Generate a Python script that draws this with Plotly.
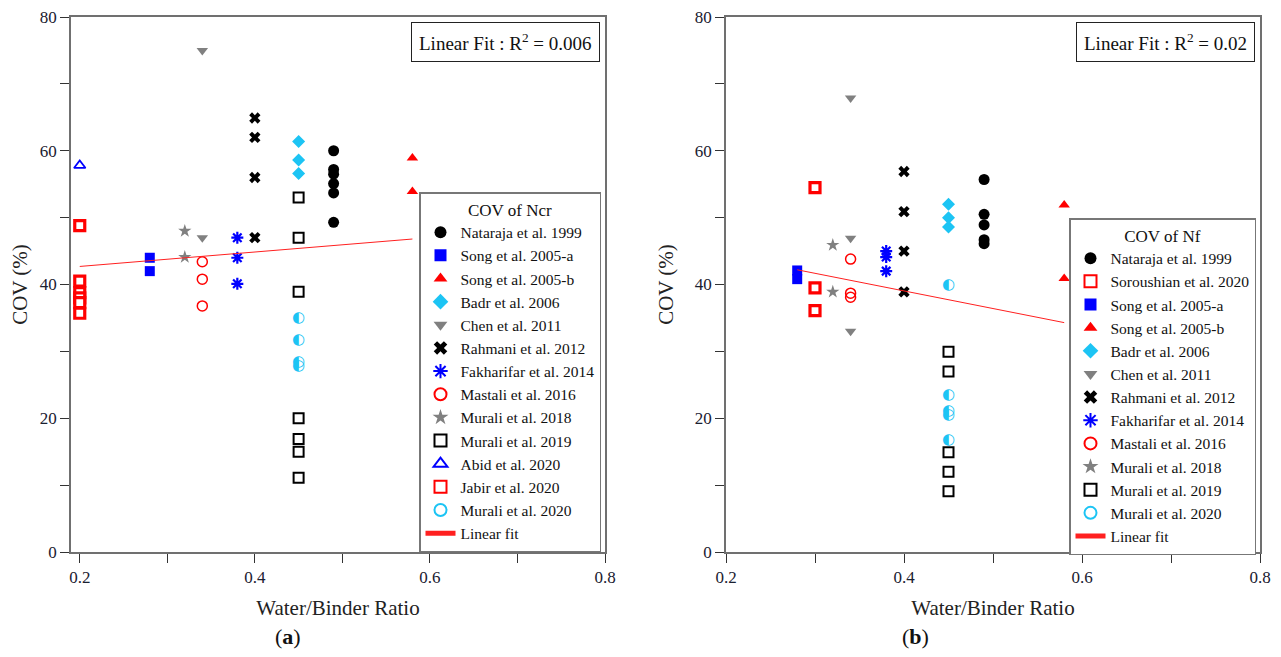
import plotly.graph_objects as go

# ---------------- Panel (a): COV of Ncr ----------------
nataraja_a_x = [0.49, 0.49, 0.49, 0.49, 0.49, 0.49]
nataraja_a_y = [60.0, 57.2, 56.5, 55.1, 53.7, 49.3]
songA_a_x = [0.28, 0.28]
songA_a_y = [44.0, 42.0]
songB_a_x = [0.58, 0.58]
songB_a_y = [58.9, 53.9]
badr_a_x = [0.45, 0.45, 0.45]
badr_a_y = [61.4, 58.6, 56.6]
chen_a_x = [0.34, 0.34]
chen_a_y = [75.0, 47.0]
rahmani_a_x = [0.40, 0.40, 0.40, 0.40]
rahmani_a_y = [64.9, 62.0, 56.0, 47.0]
fakh_a_x = [0.38, 0.38, 0.38]
fakh_a_y = [47.0, 44.0, 40.1]
mastali_a_x = [0.34, 0.34, 0.34]
mastali_a_y = [43.4, 40.8, 36.8]
mur18_a_x = [0.32, 0.32]
mur18_a_y = [48.0, 44.1]
mur19_a_x = [0.45, 0.45, 0.45, 0.45, 0.45, 0.45, 0.45]
mur19_a_y = [53.0, 47.0, 38.9, 20.0, 16.9, 15.0, 11.1]
abid_a_x = [0.20]
abid_a_y = [57.8]
jabir_a_x = [0.20, 0.20, 0.20, 0.20, 0.20, 0.20]
jabir_a_y = [48.8, 40.5, 38.8, 38.0, 37.3, 35.7]
mur20_a_x = [0.45, 0.45, 0.45, 0.45]
mur20_a_y = [35.0, 31.6, 28.4, 27.8]
fit_a_x = [0.20, 0.58]
fit_a_y = [42.7, 46.8]
r2_a = "0.006"

# ---------------- Panel (b): COV of Nf ----------------
nataraja_b_x = [0.49, 0.49, 0.49, 0.49, 0.49]
nataraja_b_y = [55.7, 50.5, 48.9, 46.7, 46.1]
sorou_b_x = [0.30, 0.30, 0.30]
sorou_b_y = [54.5, 39.5, 36.1]
songA_b_x = [0.28, 0.28]
songA_b_y = [42.1, 40.8]
songB_b_x = [0.58, 0.58]
songB_b_y = [51.9, 40.9]
badr_b_x = [0.45, 0.45, 0.45]
badr_b_y = [52.0, 50.0, 48.6]
chen_b_x = [0.34, 0.34, 0.34]
chen_b_y = [67.9, 46.9, 33.0]
rahmani_b_x = [0.40, 0.40, 0.40, 0.40]
rahmani_b_y = [56.9, 50.9, 45.0, 38.9]
fakh_b_x = [0.38, 0.38, 0.38]
fakh_b_y = [45.0, 44.1, 42.0]
mastali_b_x = [0.34, 0.34, 0.34]
mastali_b_y = [43.8, 38.7, 38.1]
mur18_b_x = [0.32, 0.32]
mur18_b_y = [45.9, 38.9]
mur19_b_x = [0.45, 0.45, 0.45, 0.45, 0.45]
mur19_b_y = [29.95, 27.0, 14.9, 12.0, 9.1]
mur20_b_x = [0.45, 0.45, 0.45, 0.45, 0.45]
mur20_b_y = [39.9, 23.4, 21.0, 20.5, 16.7]
fit_b_x = [0.28, 0.58]
fit_b_y = [42.2, 34.3]
r2_b = "0.02"

x_ticks = [0.2, 0.4, 0.6, 0.8]
y_ticks = [0, 20, 40, 60, 80]

FONT = "'Liberation Serif', 'Times New Roman', serif"
RED = "#FF0000"
BLUE = "#0000FF"
CYAN = "#1CC4F4"
GRAY = "#808080"
BLACK = "#000000"

STYLES = {
    "nataraja": dict(symbol="circle", size=11, color=BLACK),
    "songA": dict(symbol="square", size=10, color=BLUE),
    "songB": dict(symbol="triangle-up", size=10, color=RED),
    "badr": dict(symbol="diamond", size=10, color=CYAN),
    "chen": dict(symbol="triangle-down", size=10, color=GRAY),
    "rahmani": dict(symbol="x", size=10, color=BLACK),
    "fakh": dict(symbol="asterisk-open", size=10, color=BLUE, line=dict(color=BLUE, width=2.2)),
    "mastali": dict(symbol="circle-open", size=10, color=RED, line=dict(color=RED, width=1.5)),
    "mur18": dict(symbol="star", size=10, color=GRAY),
    "mur19": dict(symbol="square-open", size=10, color=BLACK, line=dict(color=BLACK, width=2)),
    "abid": dict(symbol="triangle-up-open", size=10, color=BLUE, line=dict(color=BLUE, width=1.8)),
    "jabir": dict(symbol="square", size=10, color="white", line=dict(color=RED, width=3.2)),
}

fig = go.Figure()


def add_series(name, key, xs, ys, xa, ya, legend):
    st = dict(STYLES[key])
    if "line" not in st:
        st["line"] = dict(width=0)
    fig.add_trace(go.Scatter(x=xs, y=ys, mode="markers", name=name, marker=st,
                             xaxis=xa, yaxis=ya, legend=legend))


def add_half(name, xs, ys, xa, ya, legend):
    # legend entry
    fig.add_trace(go.Scatter(x=[None], y=[None], mode="markers", name=name,
                             marker=dict(symbol="circle", size=11, color="white",
                                         line=dict(color=CYAN, width=2)),
                             xaxis=xa, yaxis=ya, legend=legend))
    # half-filled circle glyphs at the data points
    fig.add_trace(go.Scatter(x=xs, y=ys, mode="text", text=["◐"] * len(xs),
                             textfont=dict(family="DejaVu Sans", size=15, color=CYAN),
                             textposition="middle center", showlegend=False,
                             hoverinfo="skip", xaxis=xa, yaxis=ya))


def add_fit(xs, ys, xa, ya, legend):
    fig.add_trace(go.Scatter(x=xs, y=ys, mode="lines", name="Linear fit",
                             line=dict(color="#FF2020", width=1),
                             xaxis=xa, yaxis=ya, legend=legend))


# Panel (a)
L1 = "legend"
add_series("Nataraja et al. 1999", "nataraja", nataraja_a_x, nataraja_a_y, "x", "y", L1)
add_series("Song et al. 2005-a", "songA", songA_a_x, songA_a_y, "x", "y", L1)
add_series("Song et al. 2005-b", "songB", songB_a_x, songB_a_y, "x", "y", L1)
add_series("Badr et al. 2006", "badr", badr_a_x, badr_a_y, "x", "y", L1)
add_series("Chen et al. 2011", "chen", chen_a_x, chen_a_y, "x", "y", L1)
add_series("Rahmani et al. 2012", "rahmani", rahmani_a_x, rahmani_a_y, "x", "y", L1)
add_series("Fakharifar et al. 2014", "fakh", fakh_a_x, fakh_a_y, "x", "y", L1)
add_series("Mastali et al. 2016", "mastali", mastali_a_x, mastali_a_y, "x", "y", L1)
add_series("Murali et al. 2018", "mur18", mur18_a_x, mur18_a_y, "x", "y", L1)
add_series("Murali et al. 2019", "mur19", mur19_a_x, mur19_a_y, "x", "y", L1)
add_series("Abid et al. 2020", "abid", abid_a_x, abid_a_y, "x", "y", L1)
add_series("Jabir et al. 2020", "jabir", jabir_a_x, jabir_a_y, "x", "y", L1)
add_half("Murali et al. 2020", mur20_a_x, mur20_a_y, "x", "y", L1)
add_fit(fit_a_x, fit_a_y, "x", "y", L1)

# Panel (b)
L2 = "legend2"
add_series("Nataraja et al. 1999", "nataraja", nataraja_b_x, nataraja_b_y, "x2", "y2", L2)
add_series("Soroushian et al. 2020", "jabir", sorou_b_x, sorou_b_y, "x2", "y2", L2)
add_series("Song et al. 2005-a", "songA", songA_b_x, songA_b_y, "x2", "y2", L2)
add_series("Song et al. 2005-b", "songB", songB_b_x, songB_b_y, "x2", "y2", L2)
add_series("Badr et al. 2006", "badr", badr_b_x, badr_b_y, "x2", "y2", L2)
add_series("Chen et al. 2011", "chen", chen_b_x, chen_b_y, "x2", "y2", L2)
add_series("Rahmani et al. 2012", "rahmani", rahmani_b_x, rahmani_b_y, "x2", "y2", L2)
add_series("Fakharifar et al. 2014", "fakh", fakh_b_x, fakh_b_y, "x2", "y2", L2)
add_series("Mastali et al. 2016", "mastali", mastali_b_x, mastali_b_y, "x2", "y2", L2)
add_series("Murali et al. 2018", "mur18", mur18_b_x, mur18_b_y, "x2", "y2", L2)
add_series("Murali et al. 2019", "mur19", mur19_b_x, mur19_b_y, "x2", "y2", L2)
add_half("Murali et al. 2020", mur20_b_x, mur20_b_y, "x2", "y2", L2)
add_fit(fit_b_x, fit_b_y, "x2", "y2", L2)

# page has an 8px body margin: figure occupies (8,8)-(1281,657)
OFF = 8
W, H = 1281 - OFF, 657 - OFF


def px(p):
    return (p - OFF) / W


def py(p):
    return 1 - (p - OFF) / H


def xaxis_cfg(domain, rng):
    return dict(domain=domain, range=rng, automargin=False, showline=True,
                linecolor="#707070", linewidth=1.5, ticklabeloverflow="allow",
                mirror=True, ticks="outside", ticklen=9, tickcolor="#333333", tickwidth=1,
                tickvals=x_ticks, ticktext=[f"{v:.1f}" for v in x_ticks],
                minor=dict(dtick=0.1, tick0=0.2, ticks="outside", ticklen=9,
                           tickcolor="#333333", tickwidth=1, showgrid=False),
                showgrid=False, zeroline=False,
                tickfont=dict(family=FONT, size=17, color="#1a2030"),
                title=dict(text="Water/Binder Ratio", font=dict(family=FONT, size=21, color="#222"),
                           standoff=14))


def yaxis_cfg():
    return dict(domain=[py(552), py(17)], range=[0, 80], automargin=False,
                showline=True, ticklabeloverflow="allow",
                linecolor="#707070", linewidth=1.5, mirror=True, ticks="outside", ticklen=9,
                tickcolor="#333333", tickwidth=1, tickvals=y_ticks,
                minor=dict(dtick=10, tick0=0, ticks="outside", ticklen=9,
                           tickcolor="#333333", tickwidth=1, showgrid=False),
                showgrid=False, zeroline=False,
                tickfont=dict(family=FONT, size=17, color="#1a2030"),
                title=dict(text="COV (%)", font=dict(family=FONT, size=21, color="#222"),
                           standoff=15))


xa1 = xaxis_cfg([px(71), px(605)], [0.19, 0.8])
xa1["anchor"] = "y"
xa2 = xaxis_cfg([px(726), px(1260)], [0.2, 0.8])
xa2["anchor"] = "y2"
ya1 = yaxis_cfg()
ya1["anchor"] = "x"
ya2 = yaxis_cfg()
ya2["anchor"] = "x2"

legend_common = dict(bgcolor="white", bordercolor="#777777", borderwidth=1.5,
                     font=dict(family=FONT, size=15.5, color="#111"),
                     xanchor="right", yanchor="top", itemsizing="constant")

fig.update_layout(
    width=W, height=H,
    margin=dict(l=0, r=0, t=0, b=0, autoexpand=False),
    paper_bgcolor="white", plot_bgcolor="white",
    font=dict(family=FONT),
    xaxis=xa1, yaxis=ya1, xaxis2=xa2, yaxis2=ya2,
    legend=dict(x=px(601), y=py(192),
                title=dict(text="COV of Ncr", side="top center",
                           font=dict(family=FONT, size=17, color="#111")),
                **legend_common),
    legend2=dict(x=px(1256), y=py(218),
                 title=dict(text="COV of Nf", side="top center",
                            font=dict(family=FONT, size=17, color="#111")),
                 **legend_common),
    annotations=[
        dict(text=f"Linear Fit : R<sup>2</sup> = {r2_a}", xref="paper", yref="paper",
             x=px(600), y=py(22), xanchor="right", yanchor="top", showarrow=False,
             font=dict(family=FONT, size=19, color="#111"), bordercolor="#222",
             borderwidth=1, borderpad=7, bgcolor="white"),
        dict(text=f"Linear Fit : R<sup>2</sup> = {r2_b}", xref="paper", yref="paper",
             x=px(1255), y=py(22), xanchor="right", yanchor="top", showarrow=False,
             font=dict(family=FONT, size=19, color="#111"), bordercolor="#222",
             borderwidth=1, borderpad=7, bgcolor="white"),
        dict(text="(<b>a</b>)", xref="paper", yref="paper", x=px(288), y=py(636),
             xanchor="center", yanchor="middle", showarrow=False,
             font=dict(family=FONT, size=22, color="#111")),
        dict(text="(<b>b</b>)", xref="paper", yref="paper", x=px(915), y=py(636),
             xanchor="center", yanchor="middle", showarrow=False,
             font=dict(family=FONT, size=22, color="#111")),
    ],
)

fig.write_html("out.html")
